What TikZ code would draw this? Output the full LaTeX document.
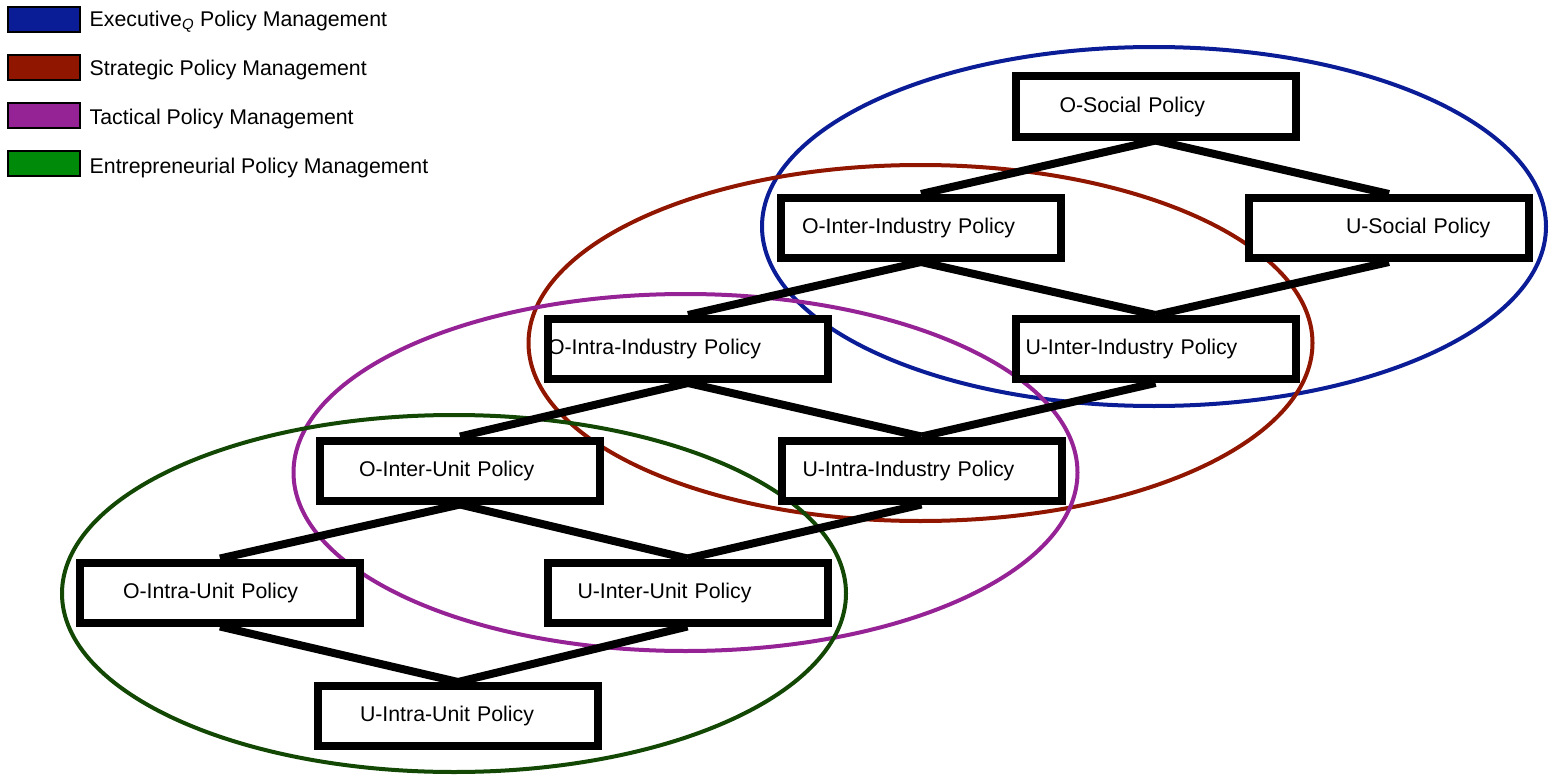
\documentclass[tikz,border=0pt]{standalone}
\usepackage{fontspec}
\setmainfont{Liberation Sans}
\usepackage{xcolor}
\usetikzlibrary{backgrounds}

\definecolor{execblue}{RGB}{10,28,150}
\definecolor{stratred}{RGB}{145,22,0}
\definecolor{tactpurple}{RGB}{150,35,150}
\definecolor{entgreen}{RGB}{0,138,10}
\definecolor{entgreendark}{RGB}{18,72,4}

\begin{document}
\begin{tikzpicture}[x=1pt, y=-1pt, font=\fontsize{21.3}{25}\selectfont,
  policy/.style={draw, line width=8pt, fill=white, minimum width=280pt,
    minimum height=60pt, inner xsep=0pt, text width=280pt, align=left},
  link/.style={line width=8pt},
  ring/.style={line width=4pt},
  swatch/.style={draw=black, line width=1.2pt},
  legtext/.style={anchor=west, inner sep=0pt}]
  \useasboundingbox (0,0) rectangle (1556,776);

  % legend
  \draw[swatch, fill=execblue]   (8,7)   rectangle (80,32);
  \draw[swatch, fill=stratred]   (8,55)  rectangle (80,80);
  \draw[swatch, fill=tactpurple] (8,103) rectangle (80,128);
  \draw[swatch, fill=entgreen]   (8,151) rectangle (80,176);
  \node[legtext] (legexec)  at (89.5,22)  {Executive\textsubscript{\itshape Q} Policy Management};
  \node[legtext] (legstrat) at (89.5,70)  {Strategic Policy Management};
  \node[legtext] (legtact)  at (89.5,118.5) {Tactical Policy Management};
  \node[legtext] (legent)   at (89.5,167.5) {Entrepreneurial Policy Management};

  % policy boxes
  \node[policy] (osocial)    at (1155.5,106.5) {\hspace*{44pt}O-Social Policy};
  \node[policy] (ointerind)  at (921,228)      {\hspace*{21pt}O-Inter-Industry Policy};
  \node[policy] (usocial)    at (1389,228)     {\hspace*{97pt}U-Social Policy};
  \node[policy] (ointraind)  at (688,349)      {O-Intra-Industry Policy};
  \node[policy] (uinterind)  at (1155.5,349)   {\hspace*{10pt}U-Inter-Industry Policy};
  \node[policy] (ointerunit) at (460,470.5)    {\hspace*{39pt}O-Inter-Unit Policy};
  \node[policy] (uintraind)  at (921.5,470.5)  {\hspace*{21pt}U-Intra-Industry Policy};
  \node[policy] (ointraunit) at (220,592.5)    {\hspace*{43pt}O-Intra-Unit Policy};
  \node[policy] (uinterunit) at (687.5,592.5)  {\hspace*{30pt}U-Inter-Unit Policy};
  \node[policy] (uintraunit) at (458,716)      {\hspace*{42pt}U-Intra-Unit Policy};

  \begin{scope}[on background layer]
    % management areas
    \draw[ring, execblue]     (1154,226.5) ellipse [x radius=392, y radius=179.5];
    \draw[ring, stratred]     (920.5,343)  ellipse [x radius=392, y radius=178];
    \draw[ring, tactpurple]   (685.5,472.5) ellipse [x radius=392, y radius=178.5];
    \draw[ring, entgreendark] (454,593.5)  ellipse [x radius=392, y radius=178.5];
    % links
    \foreach \a/\b in {osocial/ointerind, osocial/usocial,
        ointerind/ointraind, ointerind/uinterind, usocial/uinterind,
        ointraind/ointerunit, ointraind/uintraind, uinterind/uintraind,
        ointerunit/ointraunit, ointerunit/uinterunit, uintraind/uinterunit,
        ointraunit/uintraunit, uinterunit/uintraunit} {
      \draw[link] (\a.south) -- (\b.north);
    }
  \end{scope}
\end{tikzpicture}
\end{document}
